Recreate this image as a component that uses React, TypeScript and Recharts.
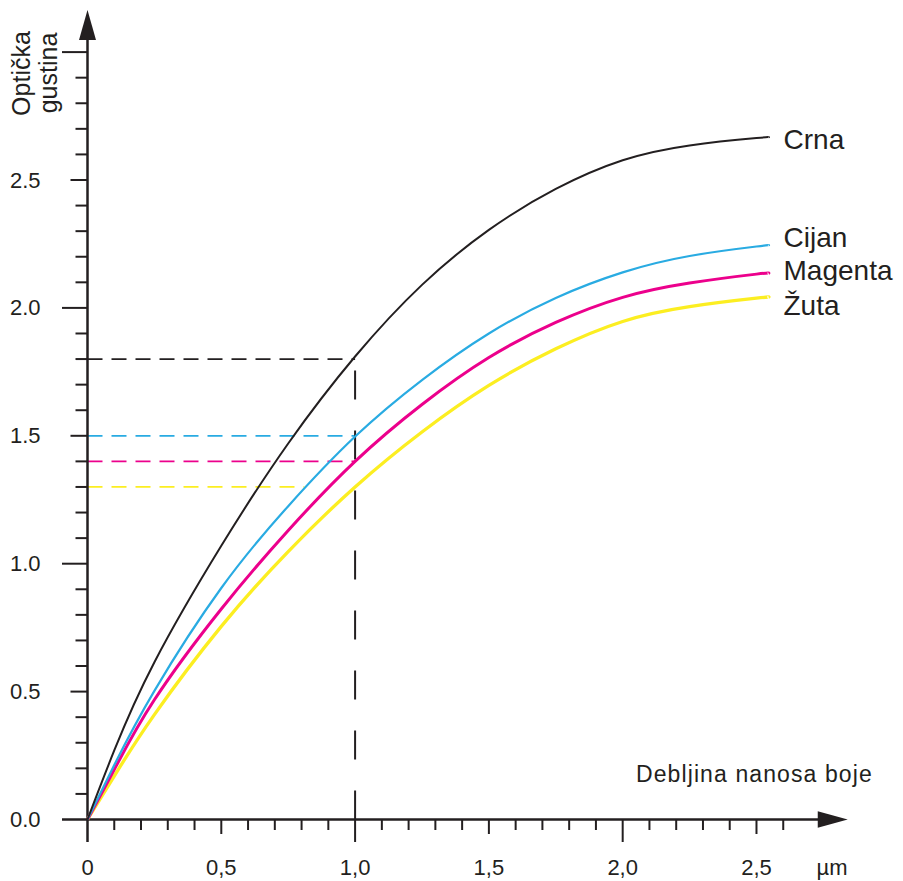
import React from "react";
import { LineChart, Line, XAxis, YAxis, ReferenceLine, ReferenceDot } from "recharts";

// debljina nanosa (µm) i opticka gustina po boji, procitano sa slike
const thickness = [0, 0.1, 0.25, 0.5, 0.75, 1.0, 1.25, 1.5, 1.75, 2.0, 2.25, 2.5, 2.545];
const crna = [0, 0.27, 0.615, 1.07, 1.47, 1.81, 2.09, 2.305, 2.465, 2.577, 2.635, 2.664, 2.667];
const cijan = [0, 0.213, 0.503, 0.905, 1.225, 1.497, 1.718, 1.9, 2.039, 2.139, 2.203, 2.24, 2.245];
const magenta = [0, 0.195, 0.468, 0.823, 1.13, 1.4, 1.6225, 1.806, 1.943, 2.041, 2.097, 2.132, 2.135];
const zuta = [0, 0.17, 0.41, 0.755, 1.0475, 1.3, 1.515, 1.697, 1.84, 1.947, 2.005, 2.038, 2.042];

const xTickLabels = ["0", "0,5", "1,0", "1,5", "2,0", "2,5"];
const yTickLabels = ["0.0", "0.5", "1.0", "1.5", "2.0", "2.5"];
const xTicks = Array.from({ length: 27 }, (_, i) => i / 10);
const yTicks = Array.from({ length: 31 }, (_, i) => i / 10);

// ocitane vrijednosti za 1 µm
const readAt = 1.0;
const readings = [
  { key: "crna", value: 1.8, until: 1.0 },
  { key: "cijan", value: 1.5, until: 1.0 },
  { key: "magenta", value: 1.4, until: 1.0 },
  { key: "zuta", value: 1.3, until: 0.81 },
];

const INK = "#231f20";
const COLORS: Record<string, string> = {
  crna: INK,
  cijan: "#29abe2",
  magenta: "#ec008c",
  zuta: "#fcee21",
};
const FONT = "'Liberation Sans', Arial, Helvetica, sans-serif";

const data = thickness.map((x, i) => ({
  x,
  crna: crna[i],
  cijan: cijan[i],
  magenta: magenta[i],
  zuta: zuta[i],
}));

function XTick(props: any) {
  const { x, y, payload } = props;
  const t = Math.round(payload.value * 10);
  const len = t % 10 === 0 ? 22.5 : t % 5 === 0 ? 14.5 : 10.5;
  const label = t % 5 === 0 ? xTickLabels[t / 5] : null;
  return (
    <g>
      <line x1={x} x2={x} y1={y} y2={y + len} stroke={INK} strokeWidth={t === 0 ? 2.5 : 2} />
      {label && (
        <text x={x} y={y + 55.5} textAnchor="middle" fontSize={22} fontFamily={FONT} fill={INK}>
          {label}
        </text>
      )}
    </g>
  );
}

function YTick(props: any) {
  const { x, y, payload } = props;
  const t = Math.round(payload.value * 10);
  const len = t % 10 === 0 ? 25.5 : t % 5 === 0 ? 17 : 12;
  const label = t % 5 === 0 ? yTickLabels[t / 5] : null;
  return (
    <g>
      <line x1={x - len} x2={x} y1={y} y2={y} stroke={INK} strokeWidth={t === 0 ? 2.5 : 2} />
      {label && (
        <text x={x - 47} y={y + 7.5} textAnchor="end" fontSize={22} fontFamily={FONT} fill={INK}>
          {label}
        </text>
      )}
    </g>
  );
}

const endLabel = (name: string, dy: number) => (props: any) =>
  props.index === thickness.length - 1 ? (
    <text x={props.x + 15} y={props.y + dy} fontSize={28} fontFamily={FONT} fill={INK}>
      {name}
    </text>
  ) : (
    <g />
  );

const arrowRight = (p: any) => (
  <path d={`M${p.cx},${p.cy} l-30,-8.3 l0,16.6 z`} fill={INK} />
);
const arrowUp = (p: any) => (
  <path d={`M${p.cx},${p.cy} l-8.5,30 l17,0 z`} fill={INK} />
);

export default function App() {
  return (
    <div style={{ position: "absolute", left: 0, top: 0, width: 903, height: 881, background: "#fff" }}>
      <LineChart
        width={903}
        height={881}
        data={data}
        margin={{ top: 52.1, right: 93, bottom: 21.5, left: 27.5 }}
      >
        <XAxis
          dataKey="x"
          type="number"
          domain={[0, 2.7]}
          ticks={xTicks}
          interval={0}
          axisLine={false}
          tickLine={false}
          tickSize={0}
          tickMargin={0}
          height={40}
          tick={XTick}
        />
        <YAxis
          type="number"
          domain={[0, 3]}
          ticks={yTicks}
          interval={0}
          axisLine={false}
          tickLine={false}
          tickSize={0}
          tickMargin={0}
          width={60}
          tick={YTick}
        />

        {readings.map((r) => (
          <ReferenceLine
            key={r.key}
            segment={[{ x: 0, y: r.value }, { x: r.until, y: r.value }]}
            stroke={COLORS[r.key]}
            strokeWidth={1.8}
            strokeDasharray="15 9"
            ifOverflow="visible"
          />
        ))}
        <ReferenceLine
          segment={[{ x: readAt, y: 0 }, { x: readAt, y: 1.8 }]}
          stroke={INK}
          strokeWidth={2}
          strokeDasharray="29 31"
          ifOverflow="visible"
        />

        <ReferenceLine
          segment={[{ x: 0, y: 0 }, { x: 2.75, y: 0 }]}
          stroke={INK}
          strokeWidth={2.5}
          ifOverflow="visible"
        />
        <ReferenceLine
          segment={[{ x: 0, y: 0 }, { x: 0, y: 3.08 }]}
          stroke={INK}
          strokeWidth={2.5}
          ifOverflow="visible"
        />
        <ReferenceDot x={2.841} y={0} r={1} shape={arrowRight} ifOverflow="visible" />
        <ReferenceDot x={0} y={3.165} r={1} shape={arrowUp} ifOverflow="visible" />

        <Line type="natural" dataKey="zuta" stroke={COLORS.zuta} strokeWidth={3.3} dot={false}
          isAnimationActive={false} label={endLabel("Žuta", 18)} />
        <Line type="natural" dataKey="magenta" stroke={COLORS.magenta} strokeWidth={3} dot={false}
          isAnimationActive={false} label={endLabel("Magenta", 6.7)} />
        <Line type="natural" dataKey="cijan" stroke={COLORS.cijan} strokeWidth={2.2} dot={false}
          isAnimationActive={false} label={endLabel("Cijan", 1.5)} />
        <Line type="natural" dataKey="crna" stroke={COLORS.crna} strokeWidth={2} dot={false}
          isAnimationActive={false} label={endLabel("Crna", 12)} />
      </LineChart>

      <svg
        width={903}
        height={881}
        style={{ position: "absolute", left: 0, top: 0, pointerEvents: "none" }}
      >
        <g fontFamily={FONT} fill={INK}>
          <text x={30} y={73.5} fontSize={25} textAnchor="middle" transform="rotate(-90 30 73.5)">
            Optička
          </text>
          <text x={57} y={73} fontSize={25} textAnchor="middle" transform="rotate(-90 57 73)">
            gustina
          </text>
          <text x={636} y={782} fontSize={23} letterSpacing={1.1}>
            Debljina nanosa boje
          </text>
          <text x={832} y={875} fontSize={22} textAnchor="middle">
            µm
          </text>
        </g>
      </svg>
    </div>
  );
}
